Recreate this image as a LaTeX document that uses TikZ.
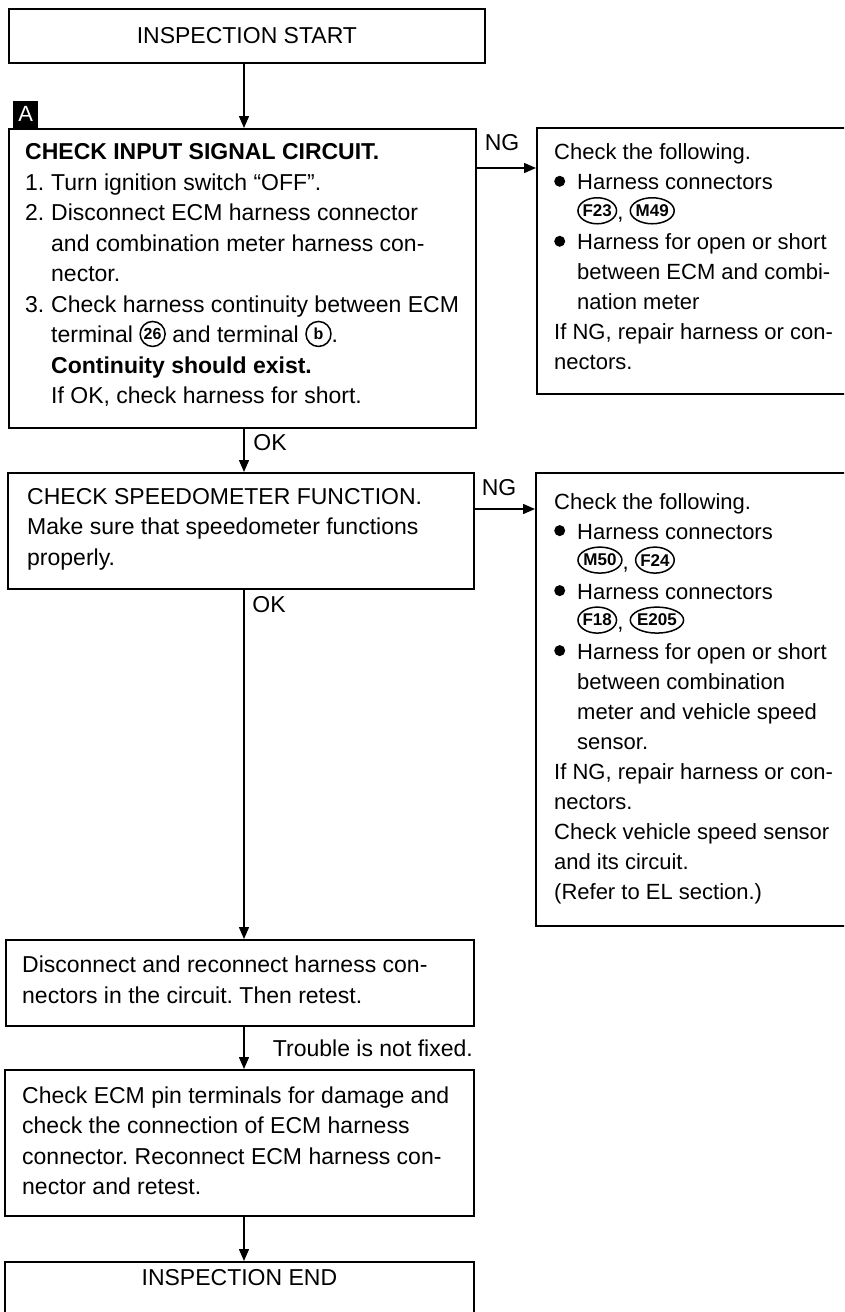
\documentclass[tikz,border=0pt]{standalone}
\usepackage{fontspec}
\setmainfont{Liberation Sans}
\usetikzlibrary{arrows.meta,shapes.geometric}
\newcommand\fs{\fontsize{23}{30.5}\selectfont}
\newcommand\fsr{\fontsize{22}{30}\selectfont}
\newcommand\bul{\makebox[23pt][l]{\tikz[x=1pt,y=1pt,baseline=0pt]{\useasboundingbox (0,0) rectangle (11,1); \fill (5.5,8.5) circle (5.5);}}}
\newcommand\ind{\hspace*{23pt}}
\newcommand\numi{\hspace*{26pt}}
\newcommand\circn[2]{\tikz[x=1pt,y=1pt,baseline=0pt]{\node[draw,circle,anchor=center,line width=1.5pt,inner sep=0pt,minimum size=25pt,font=\fontsize{16}{16}\bfseries\selectfont,text=black] (#1) at (0,9) {#2};}}
\newcommand\conn[2]{\tikz[x=1pt,y=1pt,baseline=0pt]{\node[draw,ellipse,anchor=center,line width=1.5pt,inner xsep=-1pt,inner ysep=0pt,minimum height=26pt,font=\fontsize{17}{17}\bfseries\selectfont] (#1) at (0,9) {#2};}}
\begin{document}
\frenchspacing
\begin{tikzpicture}[x=1pt,y=-1pt,
  box/.style={draw,line width=1.8pt,rectangle,inner sep=0pt,anchor=north west},
  txt/.style={anchor=west,inner sep=0pt,align=left,font=\fs},
  txtr/.style={anchor=west,inner sep=0pt,align=left,font=\fsr},
  lbl/.style={inner sep=0pt,font=\fs},
  arr/.style={line width=1.4pt,-{Triangle[width=10pt,length=12pt]}}]
\clip (0,0) rectangle (844,1312);
\fill[white] (0,0) rectangle (844,1312);
\coordinate (col) at (244,0);
\coordinate (ng1) at (0,168);
\coordinate (ng2) at (0,509);

% start
\node[box,minimum width=476pt,minimum height=54pt,font=\fs] (start) at (8,8) {INSPECTION START};

% box A
\node[box,minimum width=467pt,minimum height=299pt] (chkA) at (8,128) {};
\node[fill=black,text=white,minimum width=25pt,minimum height=27pt,inner sep=0pt,anchor=south west,font=\fontsize{22}{22}\selectfont] (labA) at ([xshift=5pt]chkA.north west) {A};
\node[txt] (tA) at ([xshift=17pt,yshift=3pt]chkA.west) {%
\textbf{CHECK INPUT SIGNAL CIRCUIT.}\\
\makebox[26pt][l]{1.}Turn ignition switch “OFF”.\\
\makebox[26pt][l]{2.}Disconnect ECM harness connector\\
\numi and combination meter harness con-\\
\numi nector.\\
\makebox[26pt][l]{3.}Check harness continuity between ECM\\
\numi terminal \circn{c26}{26} and terminal \circn{cb}{b}.\\
\numi\textbf{Continuity should exist.}\\
\numi If OK, check harness for short.};

% right box 1
\node[box,minimum width=330pt,minimum height=266pt] (r1) at (536,127) {};
\node[txtr] (tr1) at ([xshift=18pt,yshift=4pt]r1.west) {%
Check the following.\\
\bul Harness connectors\\
\ind\conn{cF23}{F23}, \conn{cM49}{M49}\\
\bul Harness for open or short\\
\ind between ECM and combi-\\
\ind nation meter\\
If NG, repair harness or con-\\
nectors.};
\node[lbl] (ngl1) at (502,143) {NG};

% box 2
\node[box,minimum width=466pt,minimum height=116pt] (chk2) at (7,472) {};
\node[txt] (t2) at ([xshift=20pt,yshift=2pt]chk2.west) {%
CHECK SPEEDOMETER FUNCTION.\\
Make sure that speedometer functions\\
properly.};
\node[lbl] (okl1) at (270,443) {OK};

% right box 2
\node[box,minimum width=331pt,minimum height=453pt] (r2) at (535,472) {};
\node[txtr] (tr2) at ([xshift=19pt,yshift=1pt]r2.west) {%
Check the following.\\
\bul Harness connectors\\
\ind\conn{cM50}{M50}, \conn{cF24}{F24}\\
\bul Harness connectors\\
\ind\conn{cF18}{F18}, \conn{cE205}{E205}\\
\bul Harness for open or short\\
\ind between combination\\
\ind meter and vehicle speed\\
\ind sensor.\\
If NG, repair harness or con-\\
nectors.\\
Check vehicle speed sensor\\
and its circuit.\\
(Refer to EL section.)};
\node[lbl] (ngl2) at (499,488) {NG};
\node[lbl] (okl2) at (269,605) {OK};

% box 3
\node[box,minimum width=468pt,minimum height=86pt] (dis) at (5,939) {};
\node[txt] (t3) at ([xshift=17pt,yshift=3pt]dis.west) {%
Disconnect and reconnect harness con-\\
nectors in the circuit. Then retest.};
\node[lbl,anchor=east] (trb) at (473,1048) {Trouble is not fixed.};

% box 4
\node[box,minimum width=469pt,minimum height=146pt] (ecm) at (4,1069) {};
\node[txt] (t4) at ([xshift=18pt,yshift=2pt]ecm.west) {%
Check ECM pin terminals for damage and\\
check the connection of ECM harness\\
connector. Reconnect ECM harness con-\\
nector and retest.};

% end
\node[box,minimum width=469pt,minimum height=90pt] (endb) at (4,1261) {};
\node[lbl] (tend) at ([yshift=-17pt]endb.north) {INSPECTION END};

% connectors
\draw[arr] (start.south -| col) -- (chkA.north -| col);
\draw[arr] (chkA.east |- ng1) -- (r1.west |- ng1);
\draw[arr] (chkA.south -| col) -- (chk2.north -| col);
\draw[arr] (chk2.east |- ng2) -- (r2.west |- ng2);
\draw[arr] (chk2.south -| col) -- (dis.north -| col);
\draw[arr] (dis.south -| col) -- (ecm.north -| col);
\draw[arr] (ecm.south -| col) -- (endb.north -| col);
\end{tikzpicture}
\end{document}
